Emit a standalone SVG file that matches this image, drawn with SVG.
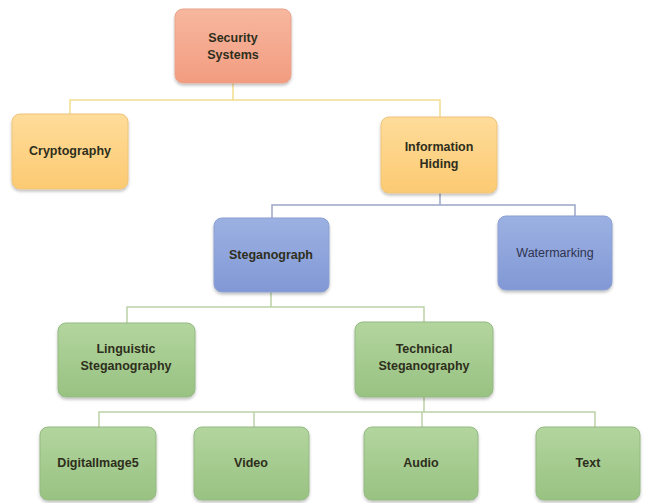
<svg xmlns="http://www.w3.org/2000/svg" width="648" height="503" viewBox="0 0 648 503">
<defs>
<linearGradient id="gRed" x1="0" y1="0" x2="0" y2="1"><stop offset="0" stop-color="#f7b79f"/><stop offset="1" stop-color="#f29c80"/></linearGradient>
<linearGradient id="gYel" x1="0" y1="0" x2="0" y2="1"><stop offset="0" stop-color="#fedc9a"/><stop offset="1" stop-color="#fcca72"/></linearGradient>
<linearGradient id="gBlu" x1="0" y1="0" x2="0" y2="1"><stop offset="0" stop-color="#9cb1e2"/><stop offset="1" stop-color="#8198d5"/></linearGradient>
<linearGradient id="gGrn" x1="0" y1="0" x2="0" y2="1"><stop offset="0" stop-color="#b3d59e"/><stop offset="1" stop-color="#98c282"/></linearGradient>
<filter id="sh" x="-10%" y="-10%" width="120%" height="130%"><feDropShadow dx="0" dy="2" stdDeviation="1.5" flood-color="#000" flood-opacity="0.25"/></filter>
</defs>
<style>
rect{rx:8;ry:8;stroke-width:1;filter:url(#sh)}
.red{fill:url(#gRed);stroke:#e9a38d}
.yel{fill:url(#gYel);stroke:#eec47c}
.blu{fill:url(#gBlu);stroke:#8a9fd2}
.grn{fill:url(#gGrn);stroke:#94b982}
text{font-family:"Liberation Sans",Arial,sans-serif;font-size:12.5px;font-weight:bold;fill:#2e2e1c;text-anchor:middle}
.reg{font-weight:normal;fill:#2f3450}
.c{fill:none;stroke-width:1.5}
.cy{stroke:#f4dd8e}
.cb{stroke:#9ba6c6}
.cg{stroke:#bcd2a8}
</style>
<g id="connectors">
<path class="c cy" d="M233 83V100M70 114V100H440V117"/>
<path class="c cb" d="M440 193V205M272 218V205H575V216"/>
<path class="c cg" d="M271 292V307M127 323V307H424V322"/>
<path class="c cg" d="M424 397V412M99 427V412H595V427M254 412V427M422 412V427"/>
</g>
<g id="security"><rect class="red" x="175" y="9" width="116" height="74"/><text x="233" y="42">Security</text><text x="233" y="59">Systems</text></g>
<g id="crypto"><rect class="yel" x="12" y="114" width="116" height="75"/><text x="70" y="155">Cryptography</text></g>
<g id="infohiding"><rect class="yel" x="381" y="117" width="116" height="76"/><text x="439" y="151">Information</text><text x="439" y="168">Hiding</text></g>
<g id="stegano"><rect class="blu" x="214" y="218" width="115" height="74"/><text x="271" y="259">Steganograph</text></g>
<g id="watermark"><rect class="blu" x="498" y="216" width="114" height="74"/><text class="reg" x="555" y="257">Watermarking</text></g>
<g id="linguistic"><rect class="grn" x="58" y="323" width="137" height="74"/><text x="126" y="353">Linguistic</text><text x="126" y="370">Steganography</text></g>
<g id="technical"><rect class="grn" x="355" y="322" width="138" height="75"/><text x="424" y="353">Technical</text><text x="424" y="370">Steganography</text></g>
<g id="digital"><rect class="grn" x="40" y="427" width="116" height="73"/><text x="98" y="467">DigitalImage5</text></g>
<g id="video"><rect class="grn" x="194" y="427" width="115" height="73"/><text x="251" y="467">Video</text></g>
<g id="audio"><rect class="grn" x="364" y="427" width="114" height="73"/><text x="421" y="467">Audio</text></g>
<g id="text"><rect class="grn" x="536" y="427" width="104" height="73"/><text x="588" y="467">Text</text></g>
</svg>
